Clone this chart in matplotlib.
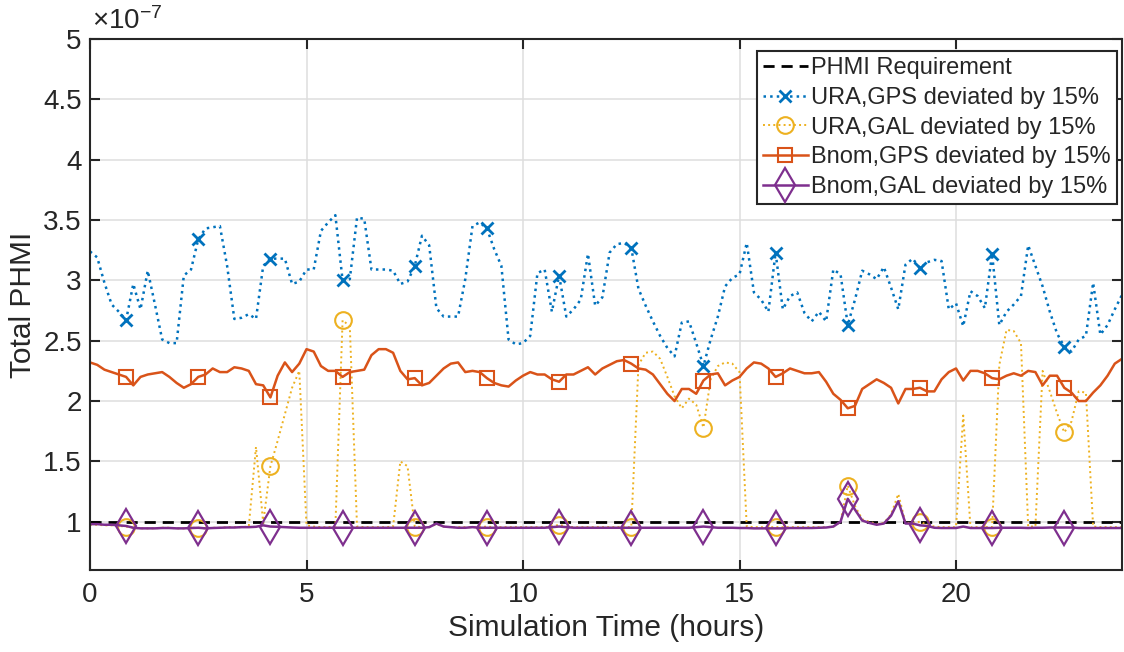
import numpy as np
import matplotlib
matplotlib.use("Agg")
import matplotlib.pyplot as plt
from matplotlib.lines import Line2D
from matplotlib.ticker import FuncFormatter

plt.rcParams["font.family"] = ["Liberation Sans", "DejaVu Sans"]
plt.rcParams["mathtext.fontset"] = "custom"
plt.rcParams["mathtext.rm"] = "Liberation Sans"

# ── Data (values in units of 1e-7), one sample every 10 min ─────────────────
STEP_HOURS = 1 / 6

ura_gps = [
    3.24, 3.19, 2.98, 2.80, 2.74, 2.67, 2.97, 2.76, 3.08, 2.80,
    2.51, 2.48, 2.48, 3.04, 3.09, 3.34, 3.43, 3.44, 3.45, 3.12,
    2.68, 2.69, 2.72, 2.68, 3.12, 3.18, 3.18, 3.18, 2.97, 2.99,
    3.09, 3.09, 3.41, 3.48, 3.54, 3.00, 3.01, 3.52, 3.51, 3.09,
    3.09, 3.09, 3.08, 2.97, 2.99, 3.12, 3.37, 3.29, 2.77, 2.70,
    2.70, 2.70, 3.01, 3.45, 3.48, 3.43, 3.26, 3.12, 2.51, 2.47,
    2.48, 2.54, 3.06, 3.09, 2.74, 3.04, 2.70, 2.76, 2.84, 3.22,
    2.79, 2.86, 3.23, 3.30, 3.31, 3.27, 2.93, 2.79, 2.66, 2.54,
    2.44, 2.37, 2.65, 2.66, 2.48, 2.29, 2.51, 2.70, 2.95, 3.02,
    3.05, 3.31, 2.90, 2.84, 2.74, 3.23, 2.76, 2.87, 2.90, 2.73,
    2.66, 2.74, 2.66, 3.09, 3.05, 2.63, 2.84, 3.08, 3.05, 3.01,
    3.11, 2.94, 2.76, 3.13, 3.18, 3.10, 3.15, 3.17, 3.16, 2.76,
    2.81, 2.62, 2.91, 2.87, 2.77, 3.22, 2.63, 2.74, 2.80, 2.87,
    3.29, 3.12, 2.95, 2.74, 2.56, 2.45, 2.41, 2.51, 2.54, 2.98,
    2.55, 2.63, 2.76, 2.88,
]

ura_gal = [
    0.975, 0.975, 0.97, 0.97, 0.965, 0.96, 0.95, 0.945, 0.945, 0.945,
    0.95, 0.95, 0.945, 0.945, 0.95, 0.95, 0.945, 0.95, 0.95, 0.955,
    0.955, 0.955, 0.96, 1.62, 0.99, 1.46, 1.67, 1.89, 2.11, 2.25,
    0.97, 0.96, 0.955, 0.955, 0.96, 2.67, 2.62, 0.96, 0.955, 0.955,
    0.955, 0.955, 0.96, 1.50, 1.46, 0.96, 0.955, 0.955, 0.98, 0.96,
    0.955, 0.955, 0.955, 0.955, 0.955, 0.96, 0.955, 0.955, 0.955, 0.955,
    0.955, 0.955, 0.955, 0.955, 0.96, 0.975, 0.96, 0.955, 0.955, 0.955,
    0.955, 0.955, 0.955, 0.955, 0.955, 0.955, 2.30, 2.40, 2.41, 2.35,
    2.20, 2.04, 1.94, 2.02, 1.97, 1.78, 2.18, 2.29, 2.32, 2.31,
    2.24, 0.96, 0.955, 0.955, 0.955, 0.955, 0.955, 0.955, 0.955, 0.955,
    0.955, 0.955, 0.955, 0.96, 1.00, 1.30, 1.13, 1.02, 1.00, 0.98,
    0.99, 1.06, 1.23, 0.99, 0.99, 1.00, 0.975, 0.96, 0.955, 0.955,
    0.955, 1.88, 0.955, 0.955, 0.955, 0.955, 2.30, 2.59, 2.58, 2.48,
    0.96, 0.96, 2.25, 2.08, 1.90, 1.74, 1.83, 2.08, 2.07, 0.96,
    0.955, 0.955, 0.955, 0.955,
]

bnom_gps = [
    2.32, 2.30, 2.26, 2.24, 2.22, 2.20, 2.13, 2.20, 2.22, 2.23,
    2.24, 2.20, 2.15, 2.11, 2.14, 2.20, 2.22, 2.27, 2.24, 2.24,
    2.28, 2.27, 2.25, 2.14, 2.13, 2.03, 2.21, 2.32, 2.24, 2.31,
    2.43, 2.41, 2.29, 2.25, 2.25, 2.20, 2.24, 2.25, 2.26, 2.38,
    2.43, 2.43, 2.40, 2.25, 2.18, 2.19, 2.13, 2.15, 2.21, 2.27,
    2.31, 2.32, 2.24, 2.25, 2.24, 2.19, 2.15, 2.13, 2.12, 2.17,
    2.21, 2.24, 2.22, 2.22, 2.18, 2.16, 2.22, 2.22, 2.25, 2.28,
    2.22, 2.27, 2.30, 2.33, 2.34, 2.31, 2.27, 2.26, 2.22, 2.14,
    2.06, 2.00, 2.10, 2.10, 2.06, 2.17, 2.22, 2.23, 2.13, 2.17,
    2.20, 2.27, 2.32, 2.31, 2.27, 2.20, 2.23, 2.27, 2.25, 2.23,
    2.23, 2.24, 2.16, 2.06, 2.01, 1.94, 1.96, 2.10, 2.14, 2.18,
    2.15, 2.11, 1.98, 2.10, 2.10, 2.11, 2.08, 2.08, 2.18, 2.24,
    2.27, 2.17, 2.25, 2.25, 2.23, 2.19, 2.18, 2.21, 2.23, 2.21,
    2.25, 2.24, 2.13, 2.21, 2.21, 2.11, 2.07, 2.00, 2.00, 2.07,
    2.13, 2.21, 2.31, 2.35,
]

bnom_gal = [
    0.98, 0.98, 0.975, 0.975, 0.97, 0.965, 0.95, 0.945, 0.945, 0.945,
    0.948, 0.948, 0.945, 0.945, 0.948, 0.95, 0.945, 0.948, 0.95, 0.952,
    0.952, 0.955, 0.955, 0.958, 0.97, 0.96, 0.958, 0.955, 0.952, 0.95,
    0.95, 0.95, 0.95, 0.95, 0.95, 0.95, 0.95, 0.95, 0.95, 0.95,
    0.95, 0.95, 0.95, 0.95, 0.95, 0.95, 0.95, 0.955, 0.985, 0.96,
    0.955, 0.95, 0.95, 0.955, 0.95, 0.95, 0.95, 0.95, 0.95, 0.95,
    0.95, 0.95, 0.95, 0.95, 0.955, 0.96, 0.955, 0.95, 0.95, 0.95,
    0.95, 0.95, 0.95, 0.95, 0.95, 0.95, 0.95, 0.95, 0.95, 0.95,
    0.95, 0.95, 0.95, 0.95, 0.955, 0.96, 0.955, 0.95, 0.95, 0.95,
    0.948, 0.948, 0.945, 0.945, 0.945, 0.945, 0.945, 0.948, 0.948, 0.948,
    0.948, 0.95, 0.952, 0.96, 1.00, 1.19, 1.10, 1.01, 0.99, 0.975,
    0.985, 1.05, 1.17, 0.985, 0.985, 0.97, 0.965, 0.95, 0.948, 0.948,
    0.948, 0.96, 0.948, 0.948, 0.948, 0.948, 0.95, 0.95, 0.95, 0.95,
    0.948, 0.95, 0.95, 0.952, 0.952, 0.952, 0.952, 0.948, 0.948, 0.948,
    0.948, 0.948, 0.948, 0.948,
]

phmi_requirement = 1.0

t = np.arange(len(ura_gps)) * STEP_HOURS

# ── Styling (MATLAB defaults) ────────────────────────────────────────────────
C_BLUE, C_YEL, C_RED, C_PUR = "#0072BD", "#EDB120", "#D95319", "#7E2F8E"
TXT = "#262626"
MARK_EVERY = (5, 10)

series = [
    ("URA,GPS deviated by 15%", ura_gps, dict(color=C_BLUE, ls=":", lw=1.8, marker="x",
                                             ms=9, mew=2.0, mfc="none")),
    ("URA,GAL deviated by 15%", ura_gal, dict(color=C_YEL, ls=":", lw=1.4, marker="o",
                                             ms=12, mew=1.5, mfc="none")),
    ("Bnom,GPS deviated by 15%", bnom_gps, dict(color=C_RED, ls="-", lw=1.8, marker="s",
                                               ms=10, mew=1.5, mfc="none")),
    ("Bnom,GAL deviated by 15%", bnom_gal, dict(color=C_PUR, ls="-", lw=1.8, marker="d",
                                               ms=17, mew=1.6, mfc="none")),
]

fig = plt.figure(figsize=(11.24, 6.52), dpi=100)
ax = fig.add_axes([90 / 1124, 1 - 570 / 652, 1032 / 1124, 531 / 652])

ax.axhline(phmi_requirement, color="black", ls="--", lw=2.0, dashes=(4, 2.5))
for label, vals, st in series:
    ax.plot(t, vals, markevery=MARK_EVERY, **st)

ax.set_xlim(0, t[-1])
ax.set_ylim(0.6, 5)
ax.set_xticks([0, 5, 10, 15, 20])
ax.set_yticks(np.arange(1, 5.01, 0.5))
ax.yaxis.set_major_formatter(FuncFormatter(lambda v, p: f"{v:g}"))
ax.grid(True, color="#dedede", lw=1.1)
ax.set_axisbelow(True)

ax.tick_params(direction="in", length=7, width=1.5, colors=TXT, labelsize=20,
               top=True, right=True)
ax.tick_params(axis="x", pad=9)
ax.tick_params(axis="y", pad=6)
for s in ax.spines.values():
    s.set_linewidth(1.5)
    s.set_color(TXT)

ax.set_xlabel("Simulation Time (hours)", fontsize=21.5, color=TXT, labelpad=4)
ax.set_ylabel("Total PHMI", fontsize=21.5, color=TXT, labelpad=4)
ax.text(0.002, 1.008, r"$\times\mathregular{10^{-7}}$", transform=ax.transAxes,
        fontsize=20, color=TXT, ha="left", va="bottom")

handles = [Line2D([], [], color="black", ls="--", lw=2.0, dashes=(4, 2.5))]
labels = ["PHMI Requirement"]
for label, vals, st in series:
    handles.append(Line2D([], [], **st))
    labels.append(label)

leg = ax.legend(handles, labels, loc="upper right", bbox_to_anchor=(0.995, 0.977),
                borderaxespad=0, fontsize=17, handlelength=1.9, handletextpad=0.15,
                borderpad=0.25, labelspacing=0.33, fancybox=False, framealpha=1,
                edgecolor=TXT)
leg.get_frame().set_linewidth(1.5)
for txt in leg.get_texts():
    txt.set_color(TXT)

fig.savefig("out.png", dpi=100)
